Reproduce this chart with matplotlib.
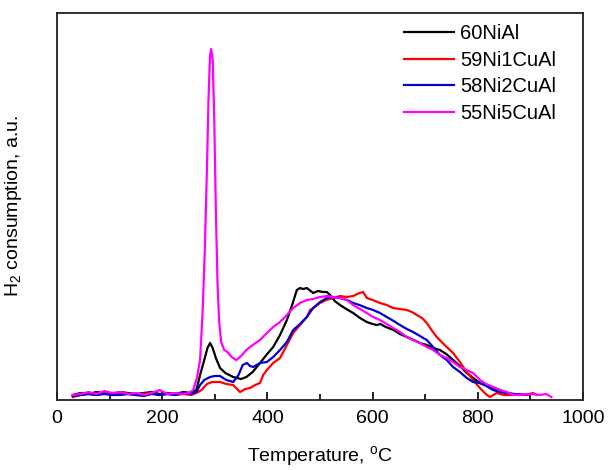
import matplotlib
matplotlib.use("Agg")
import matplotlib.pyplot as plt
from matplotlib.ticker import MultipleLocator

plt.rcParams['font.family'] = ['Liberation Sans', 'DejaVu Sans']

labels = ["60NiAl", "59Ni1CuAl", "58Ni2CuAl", "55Ni5CuAl"]
colors = ["#000000", "#ff0000", "#0000cc", "#ff00ff"]

t_black = [30,45,60,75,90,105,120,135,150,165,180,195,210,225,240,255,265,272,280,286,291,296,302,310,320,335,350,360,372,386,398,411,424,437,447,456,462,468,475,487,496,506,513,519,528,538,550,563,576,589,600,608,615,625,640,652,665,678,690,703,715,728,740,753,766,779,791,804,816,829,842,855,865,875]
h_black = [5,7,6,8,7,6,8,7,6,7,8,6,7,6,8,7,10,25,40,52,57,52,42,32,27,23,21,23,28,37,45,53,65,80,95,110,112,111,112,107,109,108,108,105,99,95,91,87,82,78,76,75,76,73,70,66,63,60,57,55,52,50,46,40,34,27,22,17,15,12,10,7,6,5]

t_red = [30,45,60,75,90,105,120,135,150,165,180,195,210,225,240,255,265,275,285,295,310,322,335,348,358,367,377,386,392,399,411,424,437,449,462,475,481,490,500,512,525,538,551,563,575,582,589,600,614,627,639,652,665,675,684,694,703,712,722,731,741,753,766,779,791,804,815,823,836,850,867,880,893,905,912]
h_red = [3,5,6,5,7,5,6,6,5,6,7,5,6,5,6,5,7,10,16,18,18,16,15,8,11,12,15,17,25,30,37,42,55,67,75,83,90,93,97,100,102,104,103,104,107,108,102,100,97,95,92,91,90,88,85,82,77,70,63,58,53,47,38,28,20,12,6,3,7,5,5,6,5,7,5]

t_blue = [30,45,60,75,90,105,120,135,150,165,180,195,210,225,240,255,265,272,280,291,300,310,322,335,345,353,361,367,373,386,399,411,424,437,449,462,475,487,500,513,525,538,551,563,575,589,601,614,627,640,652,665,677,690,703,715,728,741,753,766,779,791,804,816,829,842,855,870,886,900]
h_blue = [4,5,6,5,6,5,5,6,5,4,6,5,6,5,7,6,8,15,20,23,24,24,20,18,25,35,37,34,33,37,38,43,50,58,70,76,83,92,98,102,103,102,100,97,95,92,90,87,83,79,75,71,68,64,60,53,45,40,33,28,22,18,17,14,10,8,7,6,5,6]

t_pink = [30,45,60,75,90,105,120,135,150,165,180,195,210,225,240,250,259,266,272,277,281,285,288,291,293,296,299,302,305,308,312,318,324,332,341,350,360,372,386,399,411,424,437,449,462,475,487,500,513,525,538,551,563,576,589,601,614,627,639,652,665,677,690,703,715,728,741,753,766,779,791,804,816,829,842,855,867,880,893,905,918,930,940]
h_pink = [5,6,8,6,9,7,8,6,7,5,7,10,6,7,6,7,10,22,40,90,150,230,300,345,351,340,280,190,120,80,58,50,48,43,40,44,50,55,60,67,73,78,85,92,97,100,101,103,104,103,102,100,95,91,87,83,80,76,72,68,63,60,57,53,50,45,42,38,33,30,27,20,16,13,10,8,5,5,6,6,5,6,3]

series_t = [t_black, t_red, t_blue, t_pink]
series_h = [h_black, h_red, h_blue, h_pink]

xticks = [0, 200, 400, 600, 800, 1000]

fig = plt.figure(figsize=(6.1, 4.7), dpi=100)
ax = fig.add_axes([57/610, 70/470, 526/610, 387/470])

for t, h, c, lab in zip(series_t, series_h, colors, labels):
    ax.plot(t, h, color=c, lw=1.6, label=lab)

ax.set_xlim(0, 1000)
ax.set_ylim(0, 387)
ax.set_xticks(xticks)
ax.set_xticklabels([str(v) for v in xticks])
ax.xaxis.set_minor_locator(MultipleLocator(100))
ax.set_yticks([])
ax.tick_params(axis='x', which='major', direction='in', length=6, width=1.2, labelsize=14, pad=7)
ax.tick_params(axis='x', which='minor', direction='in', length=4, width=1.2)
for s in ax.spines.values():
    s.set_linewidth(1.3)
    s.set_color('#222222')

ax.set_xlabel("Temperature, $^\\mathregular{o}$C", fontsize=14)
ax.xaxis.set_label_coords(0.5, -0.115)
ax.set_ylabel("H$_\\mathregular{2}$ consumption, a.u.", fontsize=14)
ax.yaxis.set_label_coords(-0.062, 0.5)

leg = ax.legend(loc='upper right', bbox_to_anchor=(0.97, 1.0), frameon=False, fontsize=14.5,
                handlelength=2.5, handletextpad=0.3, labelspacing=0.38,
                borderaxespad=0.1, borderpad=0.45)

fig.savefig("out.png", dpi=100)
